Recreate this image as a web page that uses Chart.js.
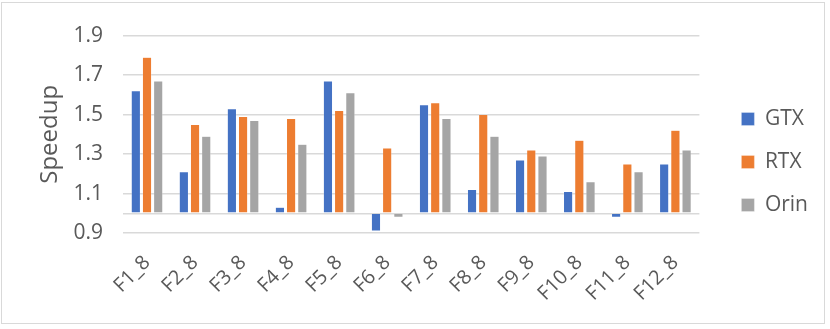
<!DOCTYPE html>
<html>
<head>
<meta charset="utf-8">
<script src="https://cdn.jsdelivr.net/npm/chart.js@4/dist/chart.umd.min.js"></script>
<style>
  html, body { margin: 0; padding: 0; background: #fff; }
  #frame {
    position: absolute; left: 1px; top: 2px;
    width: 824px; height: 322px;
    border: 1.5px solid #d9d9d9; box-sizing: border-box;
  }
  #chart { position: absolute; left: 0; top: 0; }
</style>
</head>
<body>
<div id="frame"><canvas id="chart" width="824" height="322"></canvas></div>
<script>
// speedup per kernel, baseline 1.0
const categories = ["F1_8", "F2_8", "F3_8", "F4_8", "F5_8", "F6_8",
  "F7_8", "F8_8", "F9_8", "F10_8", "F11_8", "F12_8"];
const gtx = [1.62, 1.21, 1.53, 1.03, 1.67, 0.91, 1.55, 1.12, 1.27, 1.11, 0.98, 1.25];
const rtx = [1.79, 1.45, 1.49, 1.48, 1.52, 1.33, 1.56, 1.50, 1.32, 1.37, 1.25, 1.42];
const orin = [1.67, 1.39, 1.47, 1.35, 1.61, 0.98, 1.48, 1.39, 1.29, 1.16, 1.21, 1.32];
const yTickLabels = ["0.9", "1.1", "1.3", "1.5", "1.7", "1.9"];

const FONT = "'Open Sans', 'DejaVu Sans', sans-serif";
const TEXT = "#595959";
const GRID = "#d9d9d9";

function series(label, data, color) {
  return {
    label,
    data,
    base: 1,
    yAxisID: "y",
    backgroundColor: color,
    borderColor: "rgba(255,255,255,0.6)",
    borderWidth: 0.5,
    barPercentage: 0.82,
    categoryPercentage: 0.7,
  };
}

new Chart(document.getElementById("chart"), {
  type: "bar",
  data: {
    labels: categories,
    datasets: [
      series("GTX", gtx, "#4472C4"),
      series("RTX", rtx, "#ED7D31"),
      series("Orin", orin, "#A5A5A5"),
    ],
  },
  options: {
    responsive: false,
    animation: false,
    layout: { padding: { top: 14, right: 8, bottom: 18, left: 0 } },
    plugins: {
      tooltip: { enabled: false },
      legend: {
        position: "right",
        labels: {
          boxWidth: 13,
          boxHeight: 13,
          padding: 22,
          color: TEXT,
          font: { size: 21, family: FONT },
        },
      },
    },
    scales: {
      x: {
        grid: { display: false, drawTicks: false },
        border: { display: false },
        afterFit: (scale) => { scale.height = 74; },
        ticks: {
          color: TEXT,
          font: { size: 20, family: FONT },
          minRotation: 45,
          maxRotation: 45,
          padding: 18,
        },
      },
      y: {
        min: 0.9,
        max: 1.9,
        afterFit: (scale) => { scale.width = 121; },
        title: {
          display: true,
          text: "Speedup",
          color: TEXT,
          font: { size: 24, family: FONT },
          padding: { top: 34, bottom: 0 },
        },
        border: { display: false },
        grid: {
          drawTicks: false,
          lineWidth: 1.5,
          color: (ctx) => {
            const t = Math.round(ctx.tick.value * 10);
            return t % 2 === 1 || t === 10 ? GRID : "rgba(0,0,0,0)";
          },
        },
        ticks: {
          stepSize: 0.1,
          autoSkip: false,
          padding: 20,
          color: TEXT,
          font: { size: 21, family: FONT },
          callback: (v) => {
            const s = (Math.round(v * 10) / 10).toFixed(1);
            return yTickLabels.includes(s) ? s : "";
          },
        },
      },
      // empty spacer between plot and legend
      gap: {
        type: "linear",
        position: "right",
        display: true,
        grid: { display: false, drawTicks: false },
        border: { display: false },
        ticks: { display: false },
        afterFit: (scale) => { scale.width = 20; },
      },
    },
  },
});
</script>
</body>
</html>
